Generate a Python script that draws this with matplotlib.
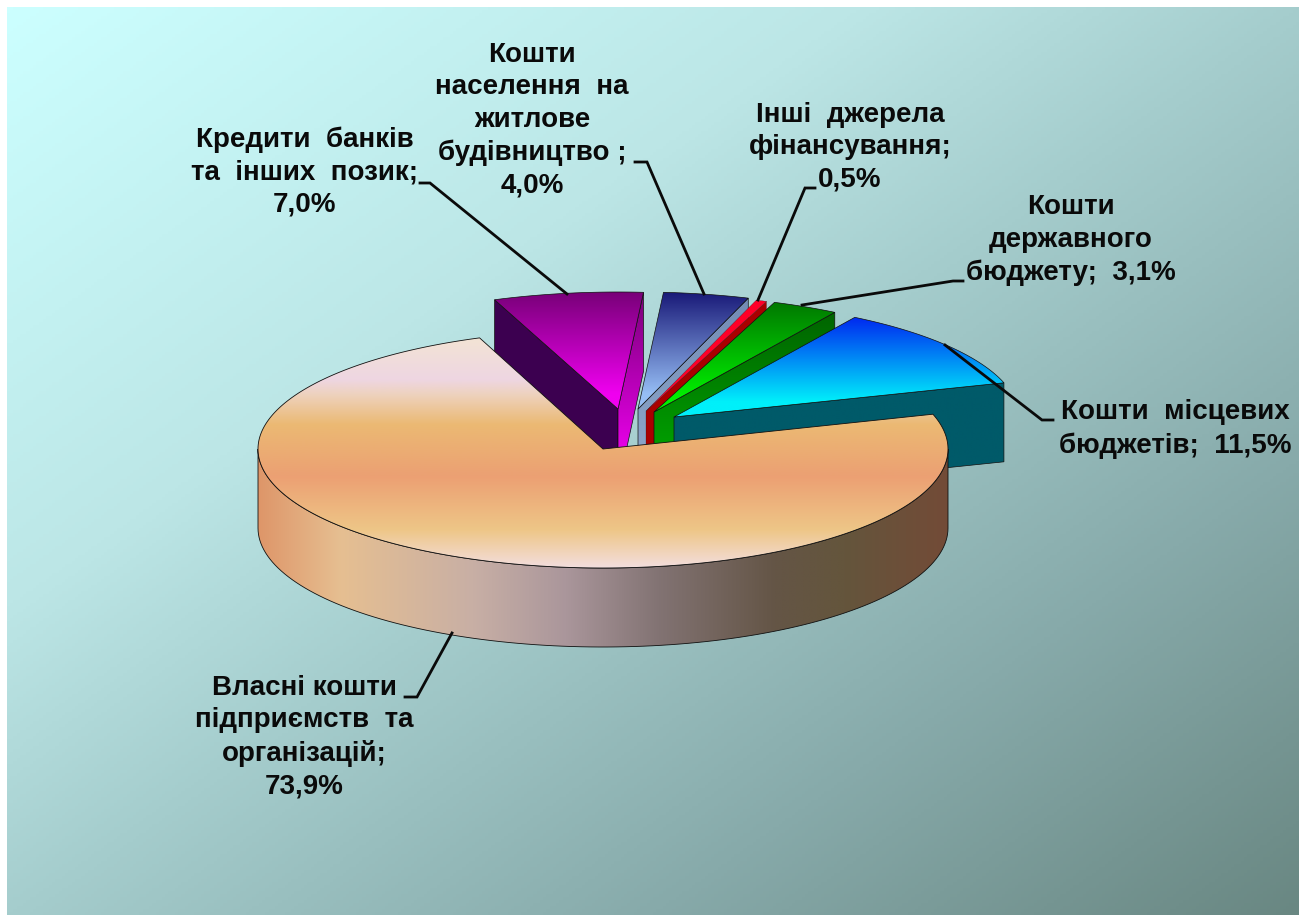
import numpy as np
import matplotlib
matplotlib.use('Agg')
import matplotlib.pyplot as plt
from matplotlib.colors import LinearSegmentedColormap
from matplotlib.patches import Polygon, Rectangle

W, H = 1299, 915

# values clockwise, starting from the big slice
names = ['Власні кошти\nпідприємств  та\nорганізацій;',
         'Кредити  банків\nта  інших  позик;',
         'Кошти\nнаселення  на\nжитлове\nбудівництво ;',
         'Інші  джерела\nфінансування;',
         'Кошти\nдержавного\nбюджету;',
         'Кошти  місцевих\nбюджетів;']
values = [73.9, 7.0, 4.0, 0.5, 3.1, 11.5]
value_labels = ['73,9%', '7,0%', '4,0%', '0,5%', '3,1%', '11,5%']

# how the labels end: newline or just a space before the percent
label_joins = ['\n', '\n', '\n', '\n', '  ', '  ']
label_pos = [(304, 737), (305, 172), (532, 120), (850, 147), (1071, 240), (1175, 429)]

# leader lines, from label to slice
leaders = [[(405, 697), (417, 697), (452, 633)],
           [(420, 183), (430, 183), (567, 294)],
           [(635, 162), (647, 162), (704, 294)],
           [(815, 188), (805, 188), (758, 300)],
           [(963, 281), (953, 281), (802, 305)],
           [(1053, 420), (1042, 420), (945, 345)]]

# exploded position of each slice (apex of the top face)
apex = [(603, 449), (618, 409), (638, 409), (646, 411), (654, 412), (674, 417)]
radius_y = [119, 117, 117, 117, 117, 117]
RX = 345
DEPTH = 79
START = 73

top_colors = [None,
              ['#780078', '#f000f0'],
              ['#191978', '#96bef5'],
              ['#ff0028', '#ff0028'],
              ['#007800', '#00f000'],
              ['#0028f0', '#00f0fa']]
cut_colors = [None,
              ['#780078', '#e600e6'],
              ['#738cb4', '#8ca5c8'],
              ['#aa0000', '#aa0000'],
              ['#006400', '#00a000'],
              ['#005a69', '#005a69']]
left_cut_color = '#3c0050'
edge_widths = [0.6, 0.5, 0.5, 0.15, 0.5, 0.5]

main_top_stops = [(338, '#f3e4d4'), (380, '#eed6e2'), (395, '#eed2be'), (425, '#ebb973'),
                  (477, '#eca073'), (530, '#eec687'), (568, '#f3dede')]
main_side_stops = [(258, '#de9669'), (340, '#e6bf91'), (473, '#c8afa5'), (566, '#aa969b'),
                   (659, '#827373'), (775, '#645546'), (845, '#64553c'), (948, '#734b37')]
bg_stops = [(0, '#ccffff'), (0.33, '#bce6e6'), (0.5, '#a5cdcd'), (0.75, '#87aaaa'), (1, '#698782')]

plt.rcParams['font.family'] = ['Liberation Sans', 'DejaVu Sans']

fig = plt.figure(figsize=(W / 100, H / 100), dpi=100)
ax = fig.add_axes([0, 0, 1, 1])
ax.axis('off')


def arc(i, t0, t1, n=120):
    t = np.radians(np.linspace(t0, t1, n))
    return np.column_stack([apex[i][0] + RX * np.sin(t), apex[i][1] - radius_y[i] * np.cos(t)])


def grad_fill(verts, stops, horizontal=False, z=1, lw=0.5):
    # gradient image clipped to a polygon, stops are in pixels
    verts = np.array(verts)
    poly = Polygon(verts, closed=True, fc='none', ec='#101010', lw=lw, zorder=z + 0.1)
    ax.add_patch(poly)
    # stretch the stops so the whole polygon is covered
    axis = 0 if horizontal else 1
    lo = min(stops[0][0], verts[:, axis].min()) - 1
    hi = max(stops[-1][0], verts[:, axis].max()) + 1
    stops = [(lo, stops[0][1])] + list(stops) + [(hi, stops[-1][1])]
    cmap = LinearSegmentedColormap.from_list(
        'g', [((p - lo) / (hi - lo), c) for p, c in stops], N=512)
    g = np.linspace(0, 1, 512)
    if horizontal:
        g = g.reshape(1, -1)
        ext = (lo, hi, verts[:, 1].max() + 1, verts[:, 1].min() - 1)
    else:
        g = g.reshape(-1, 1)
        ext = (verts[:, 0].min() - 1, verts[:, 0].max() + 1, hi, lo)
    im = ax.imshow(g, cmap=cmap, vmin=0, vmax=1, extent=ext, aspect='auto',
                   interpolation='bilinear', zorder=z)
    im.set_clip_path(poly)


# background
xx, yy = np.meshgrid(np.linspace(0, 1, 400), np.linspace(0, 1, 300))
bg_cmap = LinearSegmentedColormap.from_list('bg', bg_stops, N=512)
ax.imshow((xx + yy) / 2, cmap=bg_cmap, vmin=0, vmax=1, extent=(7, W, H, 7), aspect='auto', zorder=0)

# angles come from the values
edges = START + np.cumsum([0] + values) * 3.6

z = 2
for i in range(1, len(values)):
    t0, t1 = edges[i], edges[i + 1]
    ax_, ay_ = apex[i]
    outer0 = arc(i, t0, t0, 1)[0]
    outer1 = arc(i, t1, t1, 1)[0]
    if np.sin(np.radians(t0)) < 0:
        face = [outer0, (ax_, ay_), (ax_, ay_ + DEPTH), outer0 + (0, DEPTH)]
        ax.add_patch(Polygon(face, closed=True, fc=left_cut_color, ec='#101010', lw=0.5, zorder=z))
        z += 1
    face = [outer1, (ax_, ay_), (ax_, ay_ + DEPTH), outer1 + (0, DEPTH)]
    grad_fill(face, [(outer1[1], cut_colors[i][0]), (ay_ + 40, cut_colors[i][1])], z=z, lw=edge_widths[i])
    z += 1
    top = np.vstack([[(ax_, ay_)], arc(i, t0, t1)])
    grad_fill(top, [(top[:, 1].min(), top_colors[i][0]), (ay_ - 15, top_colors[i][1])], z=z, lw=edge_widths[i])
    z += 1

# big slice: side wall first, then the top
front = arc(0, 90, 270)
side = np.vstack([front, (front + (0, DEPTH))[::-1]])
grad_fill(side, main_side_stops, horizontal=True, z=z, lw=edge_widths[0])
z += 1
main_top = np.vstack([[apex[0]], arc(0, edges[0], edges[1], 300)])
grad_fill(main_top, main_top_stops, z=z, lw=edge_widths[0])
z += 1

# leader lines and labels
for pts in leaders:
    pts = np.array(pts)
    ax.plot(pts[:, 0], pts[:, 1], color='#0a0a0a', lw=2.0, solid_joinstyle='miter', zorder=z)
for name, join, val, pos in zip(names, label_joins, value_labels, label_pos):
    ax.text(pos[0], pos[1], name + join + val, ha='center', va='center', ma='center',
            fontsize=20, fontweight='bold', color='#0a0a0a', linespacing=1.32, zorder=z)

# white strip on the top and left of the slide
ax.add_patch(Rectangle((0, 0), W, 7, fc='white', ec='none', zorder=z))
ax.add_patch(Rectangle((0, 0), 7, H, fc='white', ec='none', zorder=z))

ax.set_xlim(0, W)
ax.set_ylim(H, 0)
fig.savefig('out.png', dpi=100)
